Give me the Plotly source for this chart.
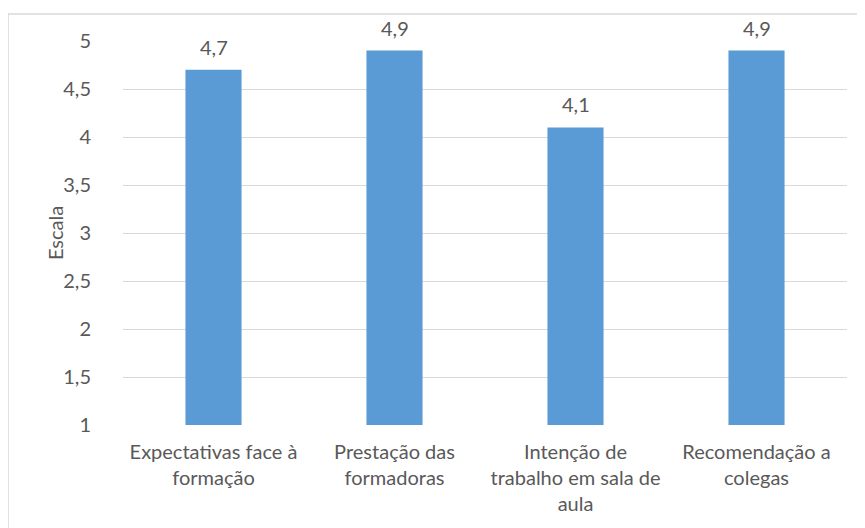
import plotly.graph_objects as go

categories = ["Expectativas face à<br>formação", "Prestação das<br>formadoras",
              "Intenção de<br>trabalho em sala de<br>aula", "Recomendação a<br>colegas"]
values = [4.7, 4.9, 4.1, 4.9]
value_labels = ["4,7", "4,9", "4,1", "4,9"]
y_ticks = [1, 1.5, 2, 2.5, 3, 3.5, 4, 4.5, 5]

FONT = "Lato, Open Sans, sans-serif"
GREY = "#595959"
FS = 20

fig = go.Figure(go.Bar(
    x=categories, y=values,
    marker=dict(color="#5B9BD5", line=dict(width=0)),
    width=0.31,
))

for c, v, t in zip(categories, values, value_labels):
    fig.add_annotation(x=c, y=v, text=t, showarrow=False, yanchor="middle", yshift=23,
                       font=dict(family=FONT, size=FS, color=GREY))

fig.add_annotation(xref="paper", yref="paper", x=-0.0939, y=0.5, text="Escala",
                   textangle=-90, showarrow=False, xanchor="center", yanchor="middle",
                   font=dict(family=FONT, size=FS, color=GREY))

fig.update_layout(
    width=865, height=528,
    margin=dict(l=115, r=26, t=33, b=111, autoexpand=False),
    paper_bgcolor="white", plot_bgcolor="white",
    separators=",.",
    showlegend=False,
    font=dict(family=FONT, size=FS, color=GREY),
    xaxis=dict(showgrid=False, showline=False, ticks="", ticklabelstandoff=13,
               tickfont=dict(size=FS, color=GREY), automargin=False),
    yaxis=dict(range=[1, 5], tickvals=y_ticks, showgrid=True, gridcolor="#D9D9D9", gridwidth=1,
               zeroline=False, showline=False, ticks="", ticklabelstandoff=31,
               tickfont=dict(size=FS, color=GREY), automargin=False),
    shapes=[dict(type="rect", xref="paper", yref="paper",
                 x0=-0.1588, x1=1.1, y0=-0.5, y1=1.0703,
                 line=dict(color="#D9D9D9", width=1.5), fillcolor="rgba(0,0,0,0)", layer="below")],
)

fig.write_html("out.html")
